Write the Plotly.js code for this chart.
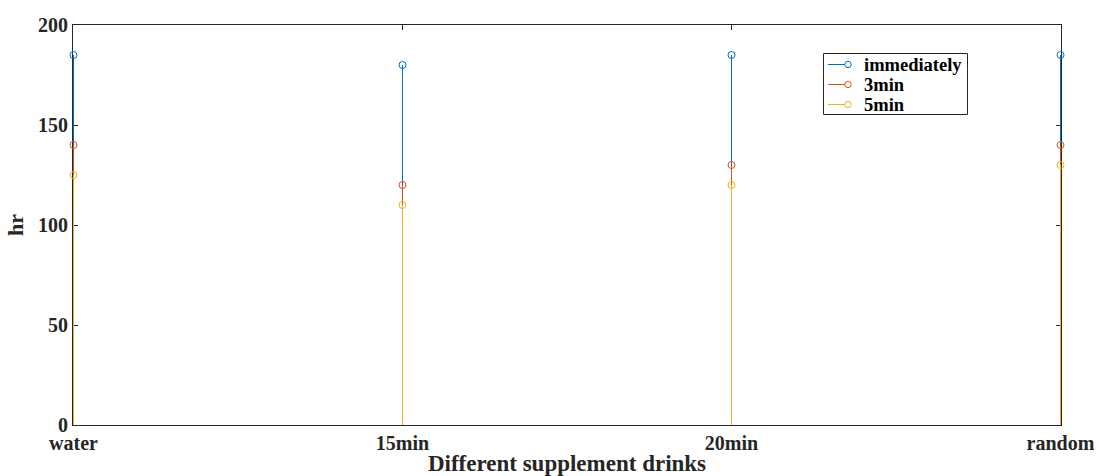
<!DOCTYPE html>
<html>
<head>
<meta charset="utf-8">
<script src="https://cdn.plot.ly/plotly-3.0.1.min.js"></script>
<style>
html,body{margin:0;padding:0;background:#fff;}
#chart{width:1099px;height:476px;}
</style>
</head>
<body>
<div id="chart"></div>
<script>
const categories = ['water', '15min', '20min', 'random'];
const positions = [1, 2, 3, 4];
const immediately = [185, 180, 185, 185];
const min3 = [140, 120, 130, 140];
const min5 = [125, 110, 120, 130];
const seriesNames = ['immediately', '3min', '5min'];
const seriesColors = ['#0072BD', '#D95319', '#EDB120'];
const seriesValues = [immediately, min3, min5];
const yTicks = [0, 50, 100, 150, 200];

const fontFam = '"Liberation Serif", "Times New Roman", serif';
const textColor = '#262626';

const W = 1099, H = 476;
const M = {l: 73, r: 38, t: 25, b: 51};
const PW = W - M.l - M.r, PH = H - M.t - M.b;
const px2x = p => (p - M.l) / PW;
const py2y = p => (H - M.b - p) / PH;
// x range chosen so each stem sits on a pixel centre (329 px per category step)
const STEP = 329;
const xr0 = 1 - 0.5 / STEP;
const xr1 = xr0 + PW / STEP;

const traces = [];
seriesValues.forEach((vals, i) => {
  traces.push({
    type: 'scatter', mode: 'lines', hoverinfo: 'skip', showlegend: false,
    x: positions.flatMap(p => [p, p, null]),
    y: vals.flatMap(v => [0, v, null]),
    line: {color: seriesColors[i], width: 1}
  });
  traces.push({
    type: 'scatter', mode: 'markers', x: positions, y: vals,
    showlegend: false, cliponaxis: false, hoverinfo: 'skip',
    marker: {symbol: 'circle-open', size: 7, color: seriesColors[i], line: {width: 1, color: seriesColors[i]}}
  });
});

// custom legend (MATLAB style: short line with marker at its end)
const shapes = [{
  type: 'rect', xref: 'paper', yref: 'paper',
  x0: px2x(823.5), x1: px2x(967.5), y0: py2y(114.5), y1: py2y(53.5),
  line: {color: textColor, width: 1}, fillcolor: '#fff', layer: 'above'
}];
const annotations = [];
seriesNames.forEach((name, i) => {
  const cy = 64.5 + i * 20;
  shapes.push({type: 'line', xref: 'paper', yref: 'paper',
    x0: px2x(828), x1: px2x(845), y0: py2y(cy), y1: py2y(cy),
    line: {color: seriesColors[i], width: 1}, layer: 'above'});
  shapes.push({type: 'circle', xref: 'paper', yref: 'paper',
    xsizemode: 'pixel', ysizemode: 'pixel', xanchor: px2x(848), yanchor: py2y(cy),
    x0: -3.2, x1: 3.2, y0: -3.2, y1: 3.2,
    line: {color: seriesColors[i], width: 1}, fillcolor: 'rgba(0,0,0,0)', layer: 'above'});
  annotations.push({xref: 'paper', yref: 'paper', x: px2x(862), y: py2y(cy),
    xanchor: 'left', yanchor: 'middle', showarrow: false, text: name,
    font: {family: fontFam, size: 18.5, color: '#000', weight: 'bold'}});
});

const layout = {
  width: W, height: H,
  margin: M,
  paper_bgcolor: '#fff', plot_bgcolor: '#fff',
  font: {family: fontFam, color: textColor, size: 18},
  showlegend: false,
  shapes: shapes,
  annotations: annotations,
  xaxis: {
    range: [xr0, xr1], tickvals: positions, ticktext: categories,
    showgrid: false, zeroline: false, showline: true, linecolor: textColor, linewidth: 1,
    mirror: 'ticks', ticks: 'inside', ticklen: 5, tickcolor: textColor, layer: 'below traces',
    tickfont: {family: fontFam, size: 20, color: textColor, weight: 'bold'},
    title: {text: 'Different supplement drinks', standoff: 2,
            font: {family: fontFam, size: 23, color: textColor, weight: 'bold'}}
  },
  yaxis: {
    range: [0, 200], tickvals: yTicks,
    showgrid: false, zeroline: false, showline: true, linecolor: textColor, linewidth: 1,
    mirror: 'ticks', ticks: 'inside', ticklen: 5, tickcolor: textColor, layer: 'below traces',
    tickfont: {family: fontFam, size: 20, color: textColor, weight: 'bold'},
    title: {text: 'hr', standoff: 8,
            font: {family: fontFam, size: 22, color: textColor, weight: 'bold'}}
  }
};

Plotly.newPlot('chart', traces, layout, {displayModeBar: false, staticPlot: true});
</script>
</body>
</html>
